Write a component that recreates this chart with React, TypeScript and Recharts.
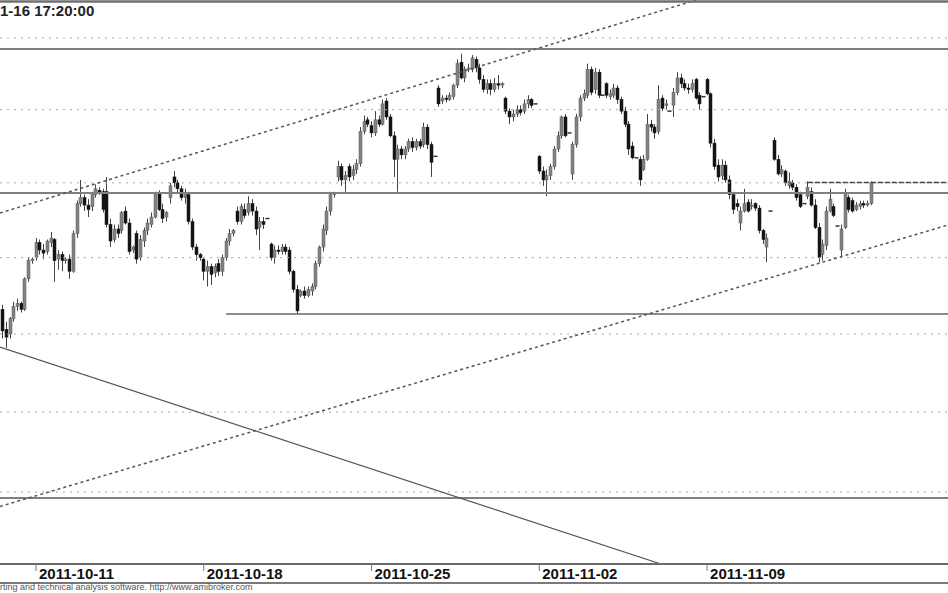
import React from "react";
import { ComposedChart, Bar, XAxis, YAxis, ReferenceLine } from "recharts";

type OHLC = [number, number, number, number]; // open, high, low, close

// trading days in view (Nov 1 and Nov 11 are market holidays), 9 bars a day
const DAYS = [
  "2011-10-10", "2011-10-11", "2011-10-12", "2011-10-13", "2011-10-14",
  "2011-10-17", "2011-10-18", "2011-10-19", "2011-10-20", "2011-10-21",
  "2011-10-24", "2011-10-25", "2011-10-26", "2011-10-27", "2011-10-28",
  "2011-10-31", "2011-11-02", "2011-11-03", "2011-11-04",
  "2011-11-07", "2011-11-08", "2011-11-09", "2011-11-10",
  "2011-11-14", "2011-11-15", "2011-11-16",
];
const BARS_PER_DAY = 9;

const WEEK_OCT_10: OHLC[] = [
  [2266, 2269, 2247, 2252], [2253, 2258, 2241, 2248], [2250, 2261, 2247, 2260], [2260, 2271, 2258, 2268], [2268, 2273, 2265, 2270], [2270, 2271, 2264, 2266], [2266, 2287, 2265, 2286], [2286, 2300, 2284, 2298], [2298, 2300, 2296, 2299],
  [2300, 2313, 2298, 2310], [2310, 2312, 2302, 2305], [2305, 2309, 2299, 2303], [2304, 2312, 2302, 2311], [2310, 2317, 2307, 2313], [2312, 2313, 2284, 2298], [2299, 2305, 2292, 2302], [2302, 2304, 2291, 2298], [2298, 2300, 2296, 2299],
  [2299, 2302, 2286, 2291], [2291, 2318, 2290, 2316], [2316, 2338, 2313, 2336], [2336, 2352, 2334, 2340], [2340, 2342, 2331, 2335], [2335, 2339, 2327, 2332], [2334, 2344, 2331, 2342], [2342, 2349, 2340, 2346], [2345, 2347, 2342, 2343],
  [2344, 2346, 2330, 2332], [2344, 2354, 2320, 2322], [2322, 2326, 2307, 2311], [2312, 2322, 2310, 2319], [2319, 2322, 2313, 2316], [2318, 2331, 2316, 2330], [2331, 2334, 2322, 2323], [2323, 2326, 2302, 2304], [2305, 2308, 2303, 2307],
  [2316, 2318, 2296, 2299], [2300, 2315, 2298, 2312], [2311, 2320, 2307, 2318], [2318, 2326, 2315, 2323], [2322, 2330, 2320, 2327], [2327, 2344, 2326, 2343], [2343, 2345, 2331, 2332], [2332, 2336, 2323, 2326], [2327, 2331, 2324, 2330],
];

const WEEK_OCT_17: OHLC[] = [
  [2340, 2350, 2336, 2348], [2354, 2358, 2347, 2350], [2350, 2352, 2343, 2346], [2346, 2348, 2338, 2340], [2340, 2346, 2336, 2343], [2342, 2344, 2322, 2324], [2324, 2326, 2305, 2307], [2307, 2309, 2298, 2302], [2302, 2303, 2298, 2300],
  [2299, 2300, 2285, 2291], [2291, 2298, 2281, 2294], [2294, 2296, 2282, 2289], [2290, 2296, 2287, 2294], [2296, 2299, 2288, 2291], [2291, 2302, 2288, 2300], [2300, 2313, 2298, 2311], [2311, 2319, 2308, 2316], [2316, 2319, 2314, 2318],
  [2331, 2334, 2322, 2324], [2324, 2336, 2322, 2334], [2332, 2336, 2326, 2328], [2330, 2341, 2328, 2336], [2336, 2339, 2328, 2331], [2331, 2334, 2315, 2319], [2320, 2327, 2305, 2324], [2324, 2327, 2319, 2322], [2326, 2326, 2326, 2326],
  [2309, 2310, 2298, 2300], [2300, 2308, 2296, 2305], [2305, 2308, 2302, 2304], [2304, 2309, 2302, 2307], [2307, 2309, 2302, 2304], [2305, 2307, 2289, 2291], [2291, 2292, 2277, 2279], [2279, 2282, 2263, 2265], [2275, 2279, 2274, 2278],
  [2278, 2281, 2273, 2275], [2275, 2281, 2274, 2279], [2278, 2283, 2275, 2281], [2281, 2298, 2279, 2296], [2296, 2308, 2294, 2307], [2307, 2322, 2304, 2319], [2318, 2334, 2315, 2331], [2331, 2344, 2328, 2342], [2342, 2344, 2340, 2343],
];

const WEEK_OCT_24: OHLC[] = [
  [2354, 2365, 2351, 2361], [2361, 2363, 2348, 2352], [2352, 2358, 2344, 2355], [2361, 2363, 2351, 2354], [2355, 2362, 2352, 2359], [2359, 2366, 2356, 2363], [2363, 2388, 2361, 2385], [2385, 2396, 2383, 2392], [2393, 2395, 2388, 2390],
  [2389, 2392, 2381, 2384], [2384, 2399, 2382, 2393], [2393, 2396, 2388, 2390], [2390, 2407, 2389, 2404], [2406, 2408, 2393, 2395], [2395, 2397, 2381, 2382], [2382, 2385, 2354, 2366], [2366, 2376, 2344, 2373], [2373, 2375, 2366, 2369],
  [2369, 2375, 2366, 2373], [2373, 2380, 2371, 2378], [2378, 2381, 2371, 2374], [2374, 2380, 2372, 2378], [2378, 2380, 2373, 2375], [2376, 2391, 2374, 2388], [2388, 2390, 2373, 2376], [2376, 2378, 2354, 2364], [2368, 2368, 2368, 2368],
  [2415, 2417, 2402, 2404], [2406, 2410, 2404, 2408], [2408, 2410, 2405, 2407], [2407, 2412, 2406, 2410], [2409, 2418, 2407, 2417], [2417, 2435, 2415, 2432], [2433, 2439, 2421, 2422], [2422, 2430, 2419, 2428], [2428, 2432, 2426, 2429],
  [2428, 2438, 2426, 2436], [2435, 2437, 2426, 2429], [2429, 2432, 2418, 2421], [2421, 2424, 2412, 2414], [2414, 2421, 2411, 2418], [2418, 2421, 2410, 2414], [2414, 2422, 2412, 2418], [2418, 2424, 2414, 2417], [2417, 2419, 2415, 2418],
];

const WEEK_OCT_31: OHLC[] = [
  [2408, 2409, 2397, 2399], [2399, 2401, 2390, 2395], [2395, 2400, 2392, 2397], [2397, 2403, 2395, 2400], [2400, 2403, 2396, 2398], [2399, 2407, 2397, 2404], [2404, 2410, 2401, 2407], [2407, 2408, 2401, 2403], [2404, 2404, 2404, 2404],
  [2368, 2369, 2356, 2358], [2358, 2361, 2348, 2352], [2352, 2359, 2341, 2355], [2355, 2363, 2352, 2361], [2361, 2375, 2359, 2373], [2373, 2385, 2371, 2382], [2382, 2396, 2380, 2395], [2395, 2397, 2381, 2382], [2384, 2384, 2384, 2384],
  [2356, 2378, 2352, 2376], [2376, 2397, 2374, 2395], [2395, 2410, 2392, 2408], [2408, 2414, 2406, 2411], [2410, 2432, 2408, 2428], [2428, 2430, 2410, 2412], [2414, 2429, 2411, 2426], [2426, 2428, 2408, 2410], [2410, 2410, 2410, 2410],
  [2418, 2419, 2408, 2410], [2409, 2414, 2407, 2411], [2410, 2418, 2408, 2415], [2415, 2417, 2404, 2407], [2407, 2409, 2397, 2399], [2399, 2402, 2388, 2390], [2390, 2392, 2369, 2373], [2375, 2378, 2366, 2367], [2367, 2367, 2367, 2367],
];

const WEEK_NOV_07: OHLC[] = [
  [2366, 2368, 2348, 2352], [2359, 2369, 2358, 2366], [2366, 2397, 2365, 2390], [2390, 2393, 2385, 2388], [2388, 2390, 2380, 2384], [2385, 2417, 2383, 2407], [2408, 2410, 2399, 2401], [2403, 2407, 2400, 2404], [2399, 2399, 2399, 2399],
  [2403, 2415, 2395, 2412], [2412, 2426, 2410, 2422], [2422, 2425, 2415, 2418], [2418, 2421, 2413, 2415], [2415, 2418, 2411, 2414], [2414, 2421, 2412, 2418], [2421, 2422, 2407, 2408], [2410, 2412, 2400, 2404], [2409, 2409, 2409, 2409],
  [2421, 2422, 2410, 2411], [2411, 2412, 2374, 2377], [2377, 2380, 2359, 2361], [2362, 2366, 2351, 2354], [2355, 2366, 2352, 2362], [2362, 2365, 2350, 2352], [2352, 2355, 2339, 2342], [2342, 2344, 2329, 2332], [2336, 2339, 2331, 2334],
  [2323, 2334, 2318, 2331], [2331, 2346, 2330, 2336], [2337, 2339, 2330, 2331], [2334, 2339, 2332, 2335], [2336, 2337, 2331, 2333], [2333, 2335, 2316, 2318], [2318, 2319, 2309, 2312], [2307, 2316, 2297, 2313], [2331, 2331, 2331, 2331],
];

const WEEK_NOV_14: OHLC[] = [
  [2379, 2381, 2365, 2366], [2366, 2369, 2355, 2356], [2356, 2362, 2354, 2359], [2358, 2359, 2348, 2350], [2348, 2357, 2346, 2351], [2350, 2352, 2345, 2347], [2347, 2349, 2338, 2340], [2342, 2344, 2333, 2334], [2336, 2336, 2336, 2336],
  [2341, 2351, 2339, 2347], [2344, 2347, 2334, 2335], [2335, 2339, 2319, 2320], [2320, 2323, 2297, 2300], [2302, 2312, 2298, 2309], [2308, 2334, 2305, 2331], [2331, 2346, 2330, 2339], [2334, 2336, 2327, 2328], [2321, 2321, 2321, 2321],
  [2305, 2322, 2301, 2319], [2320, 2346, 2319, 2342], [2340, 2342, 2330, 2332], [2338, 2340, 2330, 2331], [2332, 2337, 2331, 2335], [2334, 2338, 2332, 2336], [2336, 2338, 2333, 2335], [2335, 2338, 2334, 2336], [2336, 2351, 2335, 2350],
];

const TICK_LABELS = ["2011-10-11", "2011-10-18", "2011-10-25", "2011-11-02", "2011-11-09"];
const GRID_PRICES = [2150, 2200, 2250, 2300, 2350, 2400, 2450];

// drawn studies: horizontal levels and trend lines (bar index, price)
const LEVELS = [2442.3, 2343.2, 2146.3];
const SUPPORT_LINE = [[60, 2263], [253.63, 2263]];
const RESIST_LINE = [[216, 2350.2], [253.63, 2350.2]];
const CHANNEL_TOP = [[-0.657, 2329.7], [186.04, 2476.9]];
const CHANNEL_BOTTOM = [[-0.657, 2141.1], [253.63, 2321.7]];
const DOWN_TREND = [[-0.657, 2241.6], [176.65, 2105.95]];

const X_DOMAIN: [number, number] = [-0.657, 253.63];
const Y_DOMAIN: [number, number] = [2105.95, 2476.93];
const FONT = "'Liberation Sans', Arial, sans-serif";

const bars = [...WEEK_OCT_10, ...WEEK_OCT_17, ...WEEK_OCT_24, ...WEEK_OCT_31, ...WEEK_NOV_07, ...WEEK_NOV_14].map(
  ([o, h, l, c], i) => ({ i, o, h, l, c })
);
const ticks = TICK_LABELS.map((d) => DAYS.indexOf(d) * BARS_PER_DAY);

const seg = (pts: number[][]) => pts.map(([x, y]) => ({ x, y }));

function Candle(props: any) {
  const { x, y, width, height, payload } = props;
  if (!payload || !Number.isFinite(x) || !Number.isFinite(y)) return null;
  const cx = Math.round(x + width / 2) + 0.5;
  const yTop = Math.min(y, y + height);
  const yBot = Math.max(y, y + height);
  const { o, h, l, c } = payload;
  if (h === l) {
    return <line x1={cx - 2} x2={cx + 2} y1={yTop} y2={yTop} stroke="#333" strokeWidth={1.5} />;
  }
  const lh = Math.log(h);
  const span = lh - Math.log(l);
  const at = (v: number) => yTop + ((lh - Math.log(v)) / span) * (yBot - yTop);
  const yo = at(o);
  const yc = at(c);
  const up = c >= o;
  return (
    <g>
      <line x1={cx} x2={cx} y1={yTop} y2={yBot} stroke="#444" strokeWidth={1} />
      <rect
        x={cx - 1.5}
        y={Math.min(yo, yc)}
        width={3}
        height={Math.max(1, Math.abs(yc - yo))}
        fill={up ? "#828282" : "#141414"}
        stroke={up ? "#5e5e5e" : "#141414"}
        strokeWidth={0.5}
      />
    </g>
  );
}

function DateTick(props: any) {
  const { x, payload } = props;
  const label = DAYS[payload.value / BARS_PER_DAY];
  return (
    <g>
      <line x1={x} x2={x} y1={565} y2={571} stroke="#777" />
      <text x={x + 3} y={579} fontFamily={FONT} fontSize={15} fontWeight="bold" fill="#111">
        {label}
      </text>
    </g>
  );
}

export default function App() {
  return (
    <div style={{ position: "absolute", left: 0, top: 0, width: 948, height: 593, background: "#fff", overflow: "hidden" }}>
      <ComposedChart width={948} height={593} data={bars} margin={{ top: 0, right: 0, bottom: 0, left: 0 }}>
        <XAxis
          dataKey="i"
          type="number"
          domain={X_DOMAIN}
          allowDataOverflow
          ticks={ticks}
          interval={0}
          height={29}
          tickLine={false}
          axisLine={{ stroke: "#6b6b6b", strokeWidth: 2 }}
          tick={<DateTick />}
        />
        <YAxis hide width={0} scale="log" type="number" domain={Y_DOMAIN} allowDataOverflow />
        {GRID_PRICES.map((p) => (
          <ReferenceLine key={p} y={p} stroke="#a8a8a8" strokeDasharray="2 5" strokeWidth={1} />
        ))}
        {LEVELS.map((p) => (
          <ReferenceLine key={p} y={p} stroke="#808080" strokeWidth={2} />
        ))}
        <ReferenceLine segment={seg(SUPPORT_LINE)} stroke="#666" strokeWidth={1.5} ifOverflow="hidden" />
        <ReferenceLine segment={seg(RESIST_LINE)} stroke="#444" strokeWidth={1.5} strokeDasharray="5 2" ifOverflow="hidden" />
        <ReferenceLine segment={seg(CHANNEL_TOP)} stroke="#555" strokeWidth={1.5} strokeDasharray="3 3" ifOverflow="hidden" />
        <ReferenceLine segment={seg(CHANNEL_BOTTOM)} stroke="#555" strokeWidth={1.5} strokeDasharray="3 3" ifOverflow="hidden" />
        <ReferenceLine segment={seg(DOWN_TREND)} stroke="#555" strokeWidth={1.2} ifOverflow="hidden" />
        <Bar dataKey={(d: any) => [d.l, d.h]} barSize={3} shape={<Candle />} isAnimationActive={false} />
      </ComposedChart>
      <svg width={948} height={593} style={{ position: "absolute", left: 0, top: 0, pointerEvents: "none" }}>
        <line x1={0} x2={948} y1={1.5} y2={1.5} stroke="#707070" strokeWidth={2.5} />
        <line x1={0} x2={948} y1={583} y2={583} stroke="#7a7a7a" strokeWidth={2} />
        <text x={0} y={16} fontFamily={FONT} fontSize={15} fontWeight="bold" fill="#222">
          1-16 17:20:00
        </text>
        <text x={0} y={590} fontFamily={FONT} fontSize={9} fill="#555">
          rting and technical analysis software. http://www.amibroker.com
        </text>
      </svg>
    </div>
  );
}
